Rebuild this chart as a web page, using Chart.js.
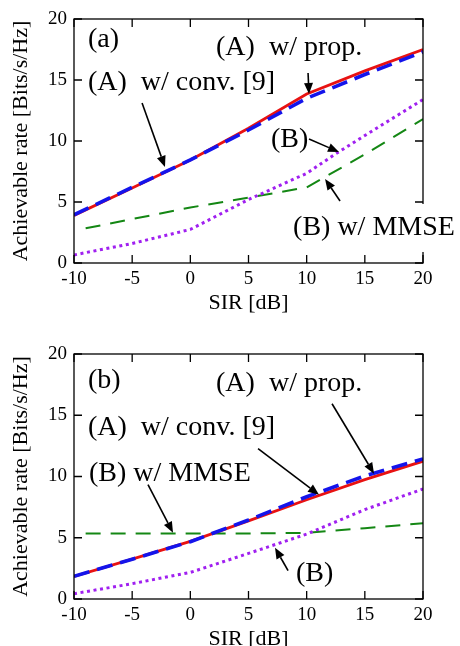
<!DOCTYPE html>
<html><head><meta charset="utf-8">
<script src="https://cdn.jsdelivr.net/npm/chart.js@4.4.1/dist/chart.umd.min.js"></script>
<style>
html,body{margin:0;padding:0;background:#fff;overflow:hidden;width:460px;height:646px;}
#wrap{position:relative;width:460px;height:646px;overflow:hidden;background:#fff;}
canvas{position:absolute;left:0;}
#ca{top:0;}
#cb{top:320px;}
</style></head><body>
<div id="wrap"><canvas id="ca" width="460" height="320"></canvas><canvas id="cb" width="460" height="336"></canvas></div>
<script>
// ---- data ----
const sir = [-10, -5, 0, 5, 10, 15, 20];
const sirMMSE = [-9, -5, 0, 5, 10, 15, 20];
const sirB_a = [-10, -5, 0, 5, 10, 12.5, 15, 20];
const xTickVals = [-10, -5, 0, 5, 10, 15, 20];
const yTickVals = [0, 5, 10, 15, 20];

// panel (a)
const propA_a  = [3.9, 6.15, 8.45, 11.05, 13.85, 15.75, 17.5];
const convA_a  = [3.95, 6.2, 8.45, 10.9, 13.5, 15.45, 17.3];
const mmseB_a  = [2.84, 3.6, 4.55, 5.35, 6.2, 8.9, 11.8];
const plainB_a = [0.66, 1.6, 2.75, 5.2, 7.35, 8.95, 10.45, 13.4];

// panel (b)
const propA_b  = [1.85, 3.25, 4.7, 6.38, 8.1, 9.75, 11.25];
const convA_b  = [1.85, 3.25, 4.68, 6.45, 8.35, 10.05, 11.43];
const mmseB_b  = [5.35, 5.35, 5.35, 5.35, 5.4, 5.78, 6.18];
const plainB_b = [0.43, 1.25, 2.17, 3.72, 5.3, 7.3, 8.98];

const SERIF = "'Liberation Serif','Times New Roman',serif";

function pts(xs, ys) { return xs.map((x, i) => ({x: x, y: ys[i]})); }

function makePlugin(labels, arrows) {
  return {
    id: 'frameAnno',
    afterDraw(chart) {
      const ctx = chart.ctx, a = chart.chartArea, xs = chart.scales.x, ys = chart.scales.y;
      ctx.save();
      ctx.strokeStyle = '#000';
      ctx.lineWidth = 1.3;
      ctx.strokeRect(a.left, a.top, a.right - a.left, a.bottom - a.top);
      const L = 8;
      ctx.beginPath();
      xs.ticks.forEach(t => {
        const p = xs.getPixelForValue(t.value);
        ctx.moveTo(p, a.bottom); ctx.lineTo(p, a.bottom - L);
        ctx.moveTo(p, a.top); ctx.lineTo(p, a.top + L);
      });
      ys.ticks.forEach(t => {
        const p = ys.getPixelForValue(t.value);
        ctx.moveTo(a.left, p); ctx.lineTo(a.left + L, p);
        ctx.moveTo(a.right, p); ctx.lineTo(a.right - L, p);
      });
      ctx.stroke();
      // labels
      ctx.font = '28px ' + SERIF;
      ctx.textAlign = 'left';
      ctx.textBaseline = 'middle';
      labels.forEach(l => {
        const px = xs.getPixelForValue(l.x), py = ys.getPixelForValue(l.y);
        const w = ctx.measureText(l.text).width;
        if (l.box) { ctx.fillStyle = '#fff'; ctx.fillRect(px - 3, py - l.box, w + 6, 2 * l.box); }
        ctx.fillStyle = '#000';
        ctx.fillText(l.text, px, py);
      });
      // arrows
      arrows.forEach(ar => {
        const x1 = xs.getPixelForValue(ar[0]), y1 = ys.getPixelForValue(ar[1]);
        const x2 = xs.getPixelForValue(ar[2]), y2 = ys.getPixelForValue(ar[3]);
        const ang = Math.atan2(y2 - y1, x2 - x1);
        const hl = 11, hw = 4.5;
        const bx = x2 - hl * Math.cos(ang), by = y2 - hl * Math.sin(ang);
        ctx.strokeStyle = '#000'; ctx.lineWidth = 1.6;
        ctx.beginPath(); ctx.moveTo(x1, y1); ctx.lineTo(bx, by); ctx.stroke();
        ctx.fillStyle = '#000';
        ctx.beginPath();
        ctx.moveTo(x2, y2);
        ctx.lineTo(bx + hw * Math.sin(ang), by - hw * Math.cos(ang));
        ctx.lineTo(bx - hw * Math.sin(ang), by + hw * Math.cos(ang));
        ctx.closePath(); ctx.fill();
      });
      ctx.restore();
    }
  };
}

function makeChart(id, padTop, sets, labels, arrows) {
  const datasets = [
    {data: sets.conv, borderColor: 'rgb(20,20,235)', borderWidth: 3.6, borderDash: [16, 8]},
    {data: sets.prop, borderColor: 'rgb(232,18,18)', borderWidth: 2.8},
    {data: sets.plain, borderColor: 'rgb(160,32,240)', borderWidth: 3, borderDash: [3, 3.6]},
    {data: sets.mmse, borderColor: 'rgb(20,135,20)', borderWidth: 2, borderDash: [15, 10]}
  ].map(d => Object.assign({pointRadius: 0, tension: 0, fill: false, borderCapStyle: 'butt'}, d));
  return new Chart(document.getElementById(id), {
    type: 'line',
    data: {datasets: datasets},
    options: {
      responsive: false,
      animation: false,
      devicePixelRatio: 1,
      layout: {padding: {left: 0, right: 37, top: padTop, bottom: 0}},
      plugins: {legend: {display: false}, tooltip: {enabled: false}},
      scales: {
        x: {
          type: 'linear', min: -10, max: 20,
          afterBuildTicks: s => { s.ticks = xTickVals.map(v => ({value: v})); },
          afterFit: s => { s.height = 57; },
          grid: {display: false, drawTicks: false},
          border: {display: false},
          ticks: {color: '#000', font: {family: SERIF, size: 19}, padding: 5, maxRotation: 0, autoSkip: false},
          title: {display: true, text: 'SIR [dB]', color: '#000', font: {family: SERIF, size: 22}, padding: {top: 0, bottom: 4}}
        },
        y: {
          type: 'linear', min: 0, max: 20,
          afterBuildTicks: s => { s.ticks = yTickVals.map(v => ({value: v})); },
          afterFit: s => { s.width = 74; },
          grid: {display: false, drawTicks: false},
          border: {display: false},
          ticks: {color: '#000', font: {family: SERIF, size: 19}, padding: 7},
          title: {display: true, text: 'Achievable rate [Bits/s/Hz]', color: '#000', font: {family: SERIF, size: 22}, padding: {top: 8, bottom: 0}}
        }
      }
    },
    plugins: [makePlugin(labels, arrows)]
  });
}

makeChart('ca', 19, {
  prop: pts(sir, propA_a), conv: pts(sir, convA_a),
  mmse: pts(sirMMSE, mmseB_a), plain: pts(sirB_a, plainB_a)
}, [
  {text: '(a)', x: -8.8, y: 18.28},
  {text: '(A)  w/ prop.', x: 2.21, y: 17.62},
  {text: '(A)  w/ conv. [9]', x: -8.8, y: 14.75},
  {text: '(B)', x: 6.93, y: 10.08},
  {text: '(B) w/ MMSE', x: 8.83, y: 2.87, box: 24}
], [
  [10.12, 15.57, 10.2, 13.85],
  [-4.15, 13.11, -2.18, 7.87],
  [10.2, 10.16, 12.78, 9.1],
  [12.87, 5.08, 11.58, 6.89]
]);

makeChart('cb', 34, {
  prop: pts(sir, propA_b), conv: pts(sir, convA_b),
  mmse: pts(sirMMSE, mmseB_b), plain: pts(sir, plainB_b)
}, [
  {text: '(b)', x: -8.8, y: 17.82},
  {text: '(A)  w/ prop.', x: 2.21, y: 17.58},
  {text: '(A)  w/ conv. [9]', x: -8.8, y: 13.98},
  {text: '(B) w/ MMSE', x: -8.71, y: 10.23},
  {text: '(B)', x: 9.08, y: 2.07}
], [
  [12.18, 15.94, 15.79, 10.23],
  [5.82, 12.27, 11.06, 8.51],
  [-3.64, 9.33, -1.49, 5.41],
  [8.4, 2.31, 7.28, 4.19]
]);
</script>
</body></html>
